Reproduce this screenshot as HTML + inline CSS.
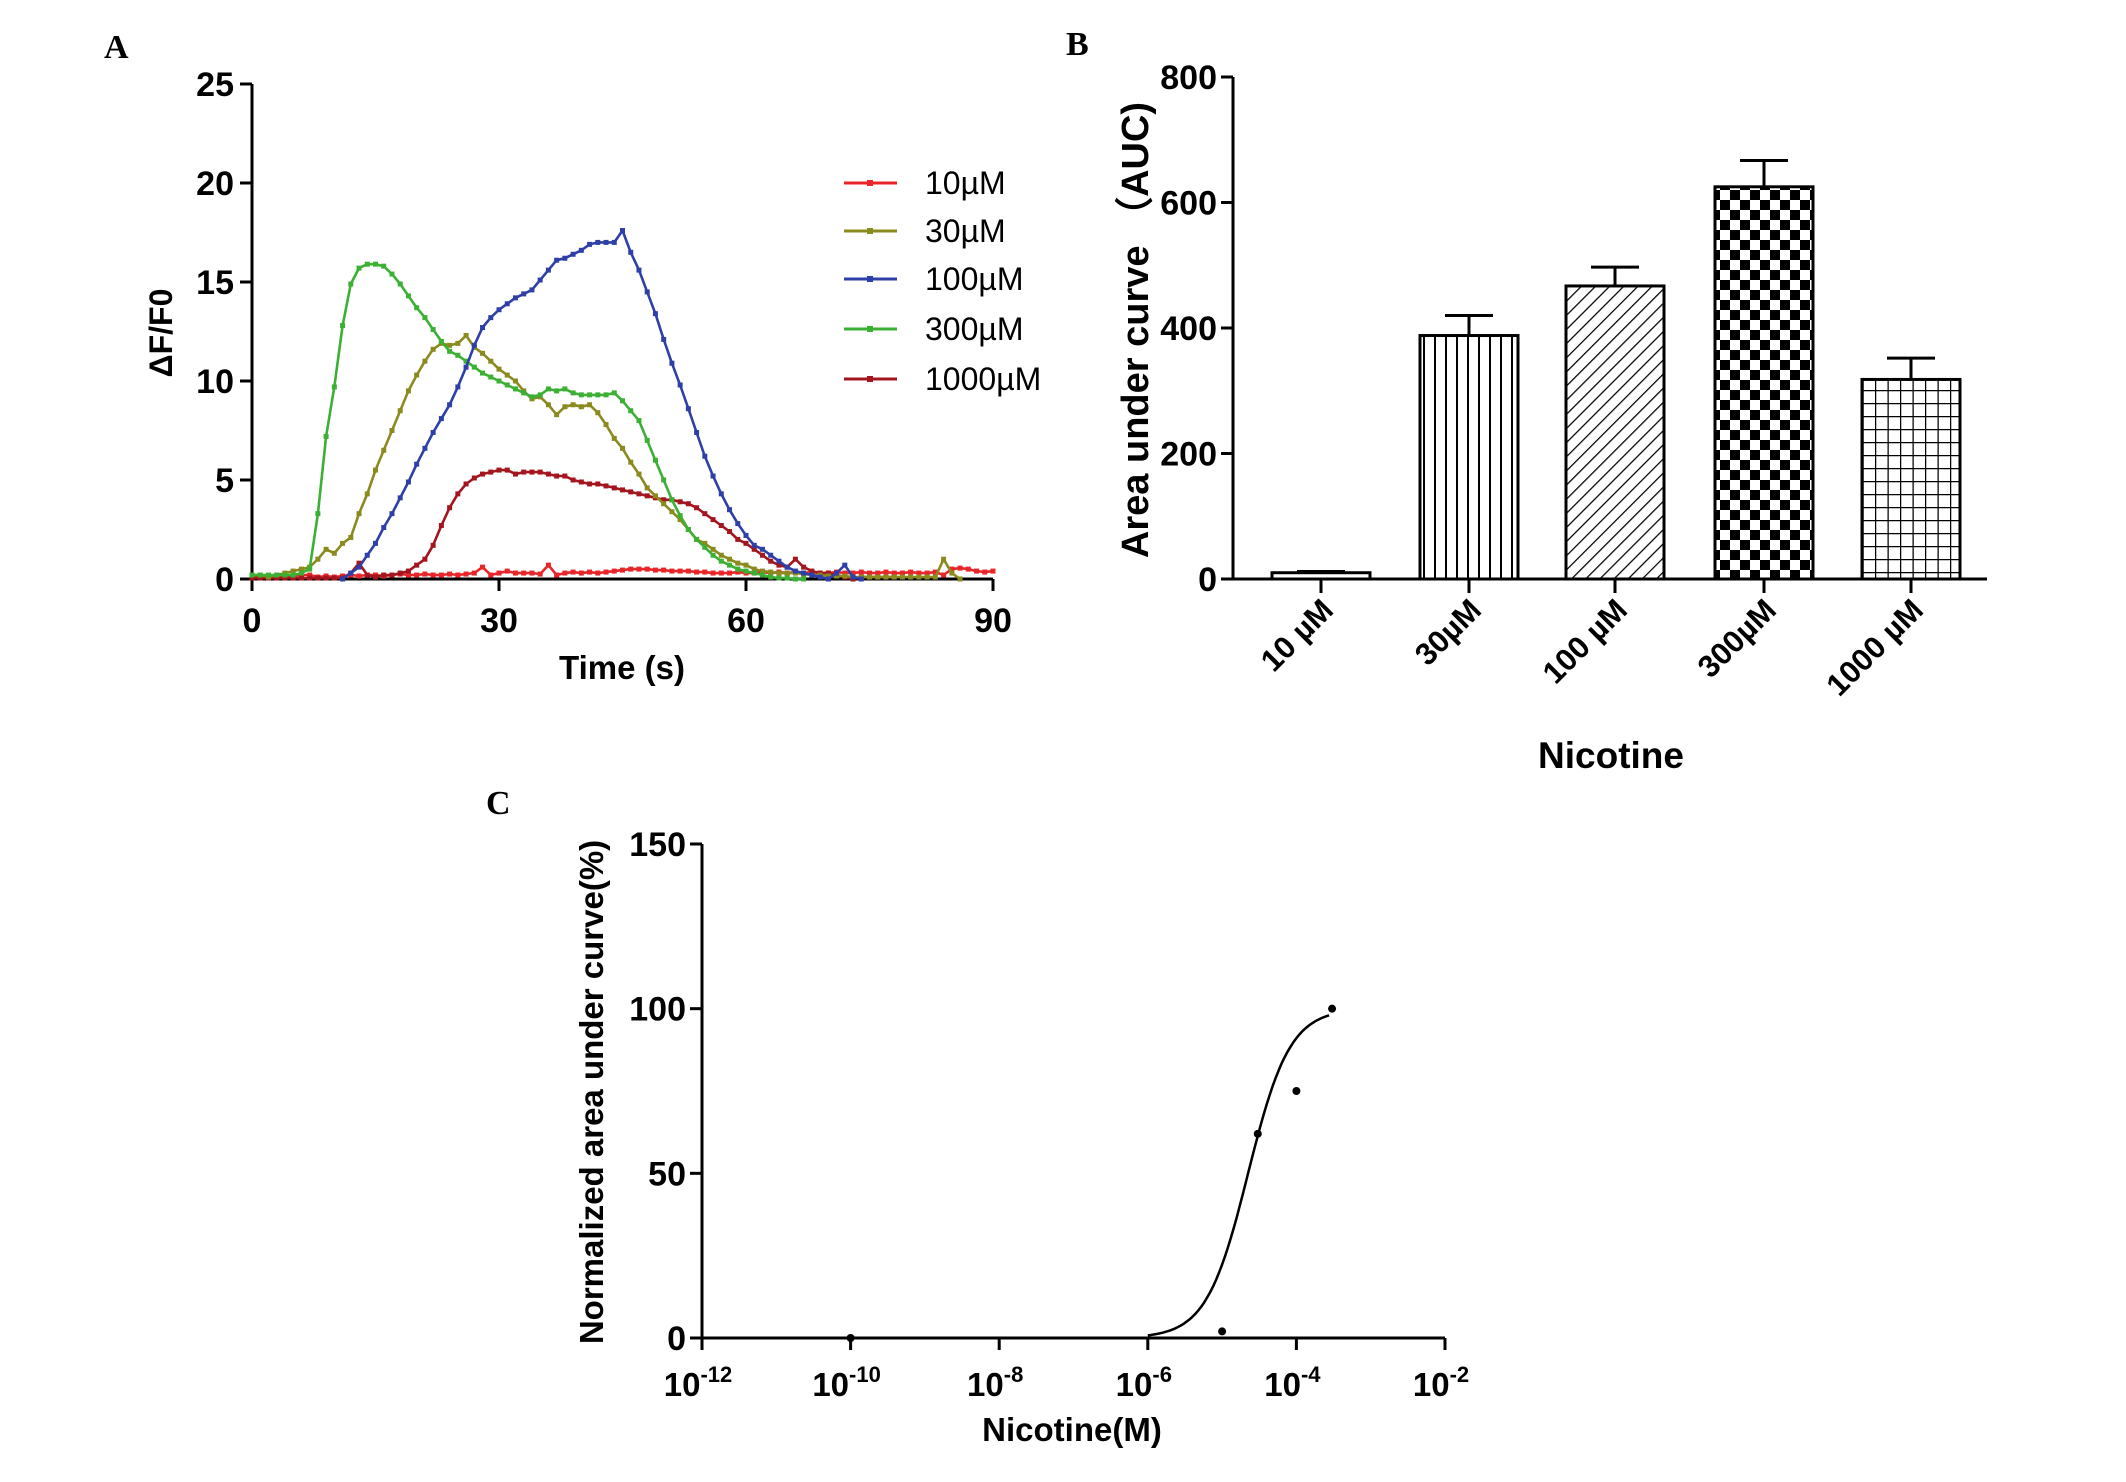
<!DOCTYPE html>
<html><head><meta charset="utf-8"><style>
html,body{margin:0;padding:0;background:#fff;}
svg{display:block;font-family:"Liberation Sans",Arial,sans-serif;}
</style></head><body>
<svg id="fig" width="2126" height="1482" viewBox="0 0 2126 1482" xmlns="http://www.w3.org/2000/svg">
<defs>
<pattern id="pVert" width="11" height="10" patternUnits="userSpaceOnUse"><rect width="11" height="10" fill="#fff"/><line x1="5" y1="0" x2="5" y2="10" stroke="#000" stroke-width="2"/></pattern>
<pattern id="pDiag" width="10" height="10" patternUnits="userSpaceOnUse" patternTransform="rotate(45)"><rect width="10" height="10" fill="#fff"/><line x1="0" y1="0" x2="0" y2="10" stroke="#000" stroke-width="2.5"/></pattern>
<pattern id="pCheck" width="20" height="20" patternUnits="userSpaceOnUse"><rect width="20" height="20" fill="#fff"/><rect x="0" y="0" width="10" height="10" fill="#000"/><rect x="10" y="10" width="10" height="10" fill="#000"/></pattern>
<pattern id="pGrid" width="12.5" height="13" patternUnits="userSpaceOnUse"><rect width="12.5" height="13" fill="#fff"/><path d="M0 0H12.5M0 0V13" stroke="#000" stroke-width="2.5"/></pattern>
</defs>
<g id="A"></g><g id="B"></g><g id="C"></g>
</svg>
<script>
// ---------- Panel A data ----------
const timeA = Array.from({length:91},(_,i)=>i);
const s10 = [0.1,0.1,0.1,0.15,0.1,0.15,0.2,0.2,0.1,0.15,0.1,0.15,0.2,0.15,0.2,0.2,0.15,0.2,0.25,0.2,0.2,0.25,0.2,0.2,0.25,0.2,0.25,0.3,0.6,0.2,0.3,0.4,0.3,0.3,0.3,0.25,0.7,0.2,0.3,0.35,0.3,0.35,0.3,0.35,0.4,0.45,0.5,0.5,0.5,0.45,0.45,0.4,0.4,0.4,0.35,0.35,0.3,0.3,0.3,0.35,0.3,0.3,0.35,0.3,0.35,0.3,0.35,0.3,0.35,0.3,0.3,0.35,0.3,0.3,0.35,0.3,0.3,0.35,0.3,0.3,0.35,0.3,0.3,0.35,0.2,0.5,0.55,0.5,0.4,0.35,0.4];
const s30 = [0.2,0.2,0.1,0.2,0.3,0.4,0.5,0.6,1.0,1.5,1.3,1.8,2.1,3.3,4.3,5.5,6.5,7.5,8.5,9.5,10.3,11.0,11.6,11.9,11.8,11.9,12.3,11.7,11.4,11.0,10.6,10.3,10.0,9.5,9.1,9.2,8.8,8.3,8.7,8.8,8.7,8.8,8.4,7.8,7.1,6.6,5.9,5.3,4.6,4.2,3.8,3.4,3.0,2.5,2.0,1.8,1.5,1.2,1.0,0.8,0.7,0.5,0.4,0.35,0.3,0.3,0.3,0.25,0.2,0.2,0.15,0.15,0.15,0.1,0.1,0.1,0.1,0.1,0.1,0.1,0.1,0.1,0.1,0.1,1.0,0.3,0.0,null,null,null,null];
const s100 = [null,null,null,null,null,null,null,null,null,null,null,0.0,0.3,0.6,1.2,1.8,2.6,3.3,4.1,4.9,5.8,6.6,7.4,8.1,8.8,9.7,10.7,11.8,12.7,13.2,13.6,13.9,14.2,14.4,14.6,15.1,15.6,16.1,16.2,16.4,16.6,16.9,17.0,17.0,17.0,17.6,16.5,15.6,14.5,13.4,12.1,10.9,9.8,8.6,7.4,6.2,5.2,4.3,3.5,2.8,2.2,1.7,1.5,1.2,0.9,0.6,0.4,0.3,0.2,0.1,0.0,0.3,0.7,0.1,0.0,null,null,null,null,null,null,null,null,null,null,null,null,null,null,null,null];
const s300 = [0.2,0.2,0.2,0.2,0.2,0.2,0.3,0.5,3.3,7.2,9.7,12.8,14.9,15.7,15.9,15.9,15.8,15.4,14.9,14.3,13.7,13.2,12.6,12.0,11.5,11.3,11.0,10.7,10.4,10.2,10.0,9.8,9.6,9.4,9.2,9.3,9.6,9.5,9.6,9.4,9.3,9.3,9.3,9.3,9.4,9.0,8.5,8.0,7.0,6.0,5.0,4.0,3.2,2.5,2.0,1.6,1.2,0.9,0.7,0.5,0.4,0.3,0.2,0.1,0.05,0.05,0.0,0.0,null,null,null,null,null,null,null,null,null,null,null,null,null,null,null,null,null,null,null,null,null,null,null];
const s1000 = [0.05,0.05,0.05,0.05,0.05,0.05,0.05,0.05,0.05,0.05,0.05,0.05,0.3,0.8,0.2,0.1,0.2,0.2,0.3,0.4,0.7,1.0,1.7,2.7,3.6,4.3,4.8,5.1,5.3,5.4,5.5,5.5,5.3,5.4,5.4,5.4,5.3,5.2,5.2,5.0,4.9,4.8,4.8,4.7,4.6,4.5,4.4,4.3,4.2,4.1,4.0,4.0,3.9,3.8,3.6,3.3,3.0,2.7,2.4,2.0,1.8,1.5,1.2,0.9,0.7,0.6,1.0,0.6,0.4,0.3,0.3,0.2,0.1,0.0,0.1,0.1,0.1,0.1,0.1,null,null,null,null,null,null,null,null,null,null,null,null];
const seriesNamesA = ["10µM","30µM","100µM","300µM","1000µM"];
const seriesColorsA = ["#e8262a","#8a8a1e","#2e3fa8","#3cb034","#a3161f"];
const yTicksA = [0,5,10,15,20,25];
const xTicksA = [0,30,60,90];

// ---------- Panel B data ----------
const barCats = ["10 µM","30µM","100 µM","300µM","1000 µM"];
const barVals = [10,388,467,625,318];
const barErr = [2,32,30,42,34];
const yTicksB = [0,200,400,600,800];

// ---------- Panel C data ----------
const logConc = [-10,-5,-4.52,-4,-3.52];
const normAUC = [0,2,62,75,100];
const fitLogEC50 = -4.65, fitHill = 1.55, fitTop = 100, fitBottom = 0;
const xTicksCExp = [-12,-10,-8,-6,-4,-2];
const yTicksC = [0,50,100,150];

const NS="http://www.w3.org/2000/svg";
function mk(parent,tag,attrs,text){const e=document.createElementNS(NS,tag);for(const k in attrs)e.setAttribute(k,attrs[k]);if(text!==undefined)e.textContent=text;parent.appendChild(e);return e;}

// ===== Panel A =====
(function(){
const g=document.getElementById('A');
const X0=252,X1=993,Y0=579,Y1=84;
const xs=v=>X0+(v-0)/(90-0)*(X1-X0);
const ys=v=>Y0-(v-0)/(25-0)*(Y0-Y1);
let t=mk(g,'text',{x:104,y:58,'font-family':'Liberation Serif,serif','font-weight':'bold','font-size':34},'A');


let ax=mk(g,'path',{d:`M${X0} ${Y1}V${Y0}H${X1}`,stroke:'#000','stroke-width':3,fill:'none'});


yTicksA.forEach(v=>{
 mk(g,'line',{x1:X0-12,x2:X0,y1:ys(v),y2:ys(v),stroke:'#000','stroke-width':3});
 let l=mk(g,'text',{x:X0-18,y:ys(v)+12,'text-anchor':'end','font-weight':'bold','font-size':34},String(v));
 
 
});
xTicksA.forEach(v=>{
 mk(g,'line',{x1:xs(v),x2:xs(v),y1:Y0,y2:Y0+12,stroke:'#000','stroke-width':3});
 let l=mk(g,'text',{x:xs(v),y:632,'text-anchor':'middle','font-weight':'bold','font-size':34},String(v));
 
 
});
let yt=mk(g,'text',{transform:'translate(172,333) rotate(-90)','text-anchor':'middle','font-weight':'bold','font-size':32},'ΔF/F0');


let xt=mk(g,'text',{x:622,y:679,'text-anchor':'middle','font-weight':'bold','font-size':33},'Time (s)');


const all=[s10,s30,s100,s300,s1000];
const order=[0,4,1,3,2];
order.forEach(si=>{
 const data=all[si],col=seriesColorsA[si];
 const sg=mk(g,'g',{});
 
 
 let d='',pen=false;
 data.forEach((v,i)=>{ if(v===null){pen=false;return;} d+=(pen?'L':'M')+xs(timeA[i]).toFixed(1)+' '+ys(v).toFixed(1); pen=true;});
 mk(sg,'path',{d:d,stroke:col,'stroke-width':2.6,fill:'none','stroke-linejoin':'round'});
 data.forEach((v,i)=>{ if(v===null)return;
  let m=mk(sg,'rect',{x:xs(timeA[i])-2.5,y:ys(v)-2.5,width:5,height:5,fill:col});
  
  
 });
});
const ly=[183,231,279,329,379];
seriesNamesA.forEach((n,i)=>{
 const lg=mk(g,'g',{});
 
 
 mk(lg,'line',{x1:844,x2:897,y1:ly[i],y2:ly[i],stroke:seriesColorsA[i],'stroke-width':3});
 mk(lg,'rect',{x:867,y:ly[i]-3,width:6,height:6,fill:seriesColorsA[i]});
 mk(lg,'text',{x:925,y:ly[i]+11,'font-size':32},n);
});
})();

// ===== Panel B =====
(function(){
const g=document.getElementById('B');
const X0=1233,X1=1987,Y0=579,Y1=77;
const ys=v=>Y0-v/800*(Y0-Y1);
const centers=[1321,1469,1615,1764,1911];
const bw=98;
const fills=['#fff','url(#pVert)','url(#pDiag)','url(#pCheck)','url(#pGrid)'];
let t=mk(g,'text',{x:1066,y:55,'font-family':'Liberation Serif,serif','font-weight':'bold','font-size':34},'B');


barVals.forEach((v,i)=>{
 const cx=centers[i];
 let e=mk(g,'path',{d:`M${cx} ${ys(v)}V${ys(v+barErr[i])}M${cx-24} ${ys(v+barErr[i])}H${cx+24}`,stroke:'#000','stroke-width':3,fill:'none'});
 
 
 let b=mk(g,'rect',{x:cx-bw/2,y:ys(v),width:bw,height:Y0-ys(v),fill:fills[i],stroke:'#000','stroke-width':3});
 
 
});
let ax=mk(g,'path',{d:`M${X0} ${Y1}V${Y0}H${X1}`,stroke:'#000','stroke-width':3,fill:'none'});


yTicksB.forEach(v=>{
 mk(g,'line',{x1:X0-12,x2:X0,y1:ys(v),y2:ys(v),stroke:'#000','stroke-width':3});
 let l=mk(g,'text',{x:X0-16,y:ys(v)+12,'text-anchor':'end','font-weight':'bold','font-size':34},String(v));
 
 
});
barCats.forEach((c,i)=>{
 const cx=centers[i];
 mk(g,'line',{x1:cx,x2:cx,y1:Y0,y2:Y0+14,stroke:'#000','stroke-width':3});
 let l=mk(g,'text',{transform:`translate(${cx+14},${612}) rotate(-45)`,'text-anchor':'end','font-weight':'bold','font-size':31},c);
 
 
});
let yt=mk(g,'text',{transform:'translate(1148,330) rotate(-90)','text-anchor':'middle','font-weight':'bold','font-size':38},'Area under curve （AUC)');


let xt=mk(g,'text',{x:1611,y:768,'text-anchor':'middle','font-weight':'bold','font-size':37},'Nicotine');


})();

// ===== Panel C =====
(function(){
const g=document.getElementById('C');
const X0=702,X1=1445,Y0=1338,Y1=844;
const xs=lv=>X0+(lv+12)/10*(X1-X0);
const ys=v=>Y0-v/150*(Y0-Y1);
let t=mk(g,'text',{x:486,y:814,'font-family':'Liberation Serif,serif','font-weight':'bold','font-size':34},'C');


let ax=mk(g,'path',{d:`M${X0} ${Y1}V${Y0}H${X1}`,stroke:'#000','stroke-width':3,fill:'none'});


yTicksC.forEach(v=>{
 mk(g,'line',{x1:X0-12,x2:X0,y1:ys(v),y2:ys(v),stroke:'#000','stroke-width':3});
 let l=mk(g,'text',{x:X0-16,y:ys(v)+12,'text-anchor':'end','font-weight':'bold','font-size':34},String(v));
 
 
});
xTicksCExp.forEach(e=>{
 mk(g,'line',{x1:xs(e),x2:xs(e),y1:Y0,y2:Y0+12,stroke:'#000','stroke-width':3});
 let l=mk(g,'text',{x:xs(e)-4,y:1396,'text-anchor':'middle','font-weight':'bold','font-size':33});
 
 
 mk(l,'tspan',{},'10');
 mk(l,'tspan',{dy:-14,'font-size':22},String(e));
});
let d='';
for(let lv=-6;lv<=-3.52;lv+=0.04){
 const v=fitBottom+(fitTop-fitBottom)/(1+Math.pow(10,fitHill*(fitLogEC50-lv)));
 d+=(d?'L':'M')+xs(lv).toFixed(1)+' '+ys(v).toFixed(1);
}
let cv=mk(g,'path',{d:d,stroke:'#000','stroke-width':2.5,fill:'none'});


logConc.forEach((lv,i)=>{
 let p=mk(g,'circle',{cx:xs(lv),cy:ys(normAUC[i]),r:4,fill:'#000'});
 
 
});
let yt=mk(g,'text',{transform:'translate(603,1092) rotate(-90)','text-anchor':'middle','font-weight':'bold','font-size':33},'Normalized area under curve(%)');


let xt=mk(g,'text',{x:1072,y:1441,'text-anchor':'middle','font-weight':'bold','font-size':33},'Nicotine(M)');


})();
</script>
</body></html>
